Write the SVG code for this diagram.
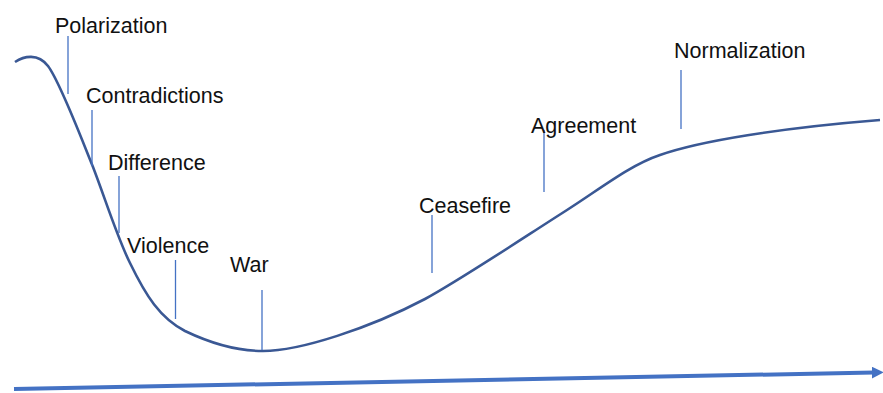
<svg xmlns="http://www.w3.org/2000/svg" width="883" height="393" viewBox="0 0 883 393">
<style>
text{font-family:"Liberation Sans",Arial,sans-serif;font-size:21.5px;fill:#111}
.tick{stroke:#4472C4;stroke-width:1.3;fill:none}
.curve{stroke:#3A5894;stroke-width:2.6;fill:none}
</style>
<defs>
<marker id="ah" viewBox="0 0 10 10" refX="2" refY="5" markerWidth="3" markerHeight="3" orient="auto" markerUnits="strokeWidth">
<path d="M0,0 L10,5 L0,10 Z" fill="#4472C4"/>
</marker>
</defs>
<rect width="883" height="393" fill="#fff"/>
<g id="connectors">
<path id="curve" class="curve" d="M15,62 C24,56 38,53 48,66 C60,82 80,135 93,167 C105,198 117,237 130,263 C146,296 160,318 185,331 C210,343 238,351 263,351 C300,351 370,328 425,299 C460,280 520,240 567,210 C600,189 630,165 660,155 C700,141 780,128 880,120"/>
<line id="axis" x1="14" y1="389" x2="874" y2="372.5" stroke="#4472C4" stroke-width="4" marker-end="url(#ah)"/>
</g>
<g id="polarization"><line class="tick" x1="68" y1="36" x2="68" y2="94"/><text x="55" y="33">Polarization</text></g>
<g id="contradictions"><line class="tick" x1="92" y1="110" x2="92" y2="166"/><text x="86" y="103">Contradictions</text></g>
<g id="difference"><line class="tick" x1="119" y1="176" x2="119" y2="233"/><text x="108" y="170">Difference</text></g>
<g id="violence"><line class="tick" x1="175.5" y1="260" x2="175.5" y2="319"/><text x="127" y="253">Violence</text></g>
<g id="war"><line class="tick" x1="262" y1="290" x2="262" y2="350"/><text x="230" y="272">War</text></g>
<g id="ceasefire"><line class="tick" x1="432" y1="215" x2="432" y2="273"/><text x="419" y="213">Ceasefire</text></g>
<g id="agreement"><line class="tick" x1="544" y1="130" x2="544" y2="192"/><text x="531" y="133">Agreement</text></g>
<g id="normalization"><line class="tick" x1="681" y1="70" x2="681" y2="129"/><text x="674" y="58">Normalization</text></g>
</svg>
